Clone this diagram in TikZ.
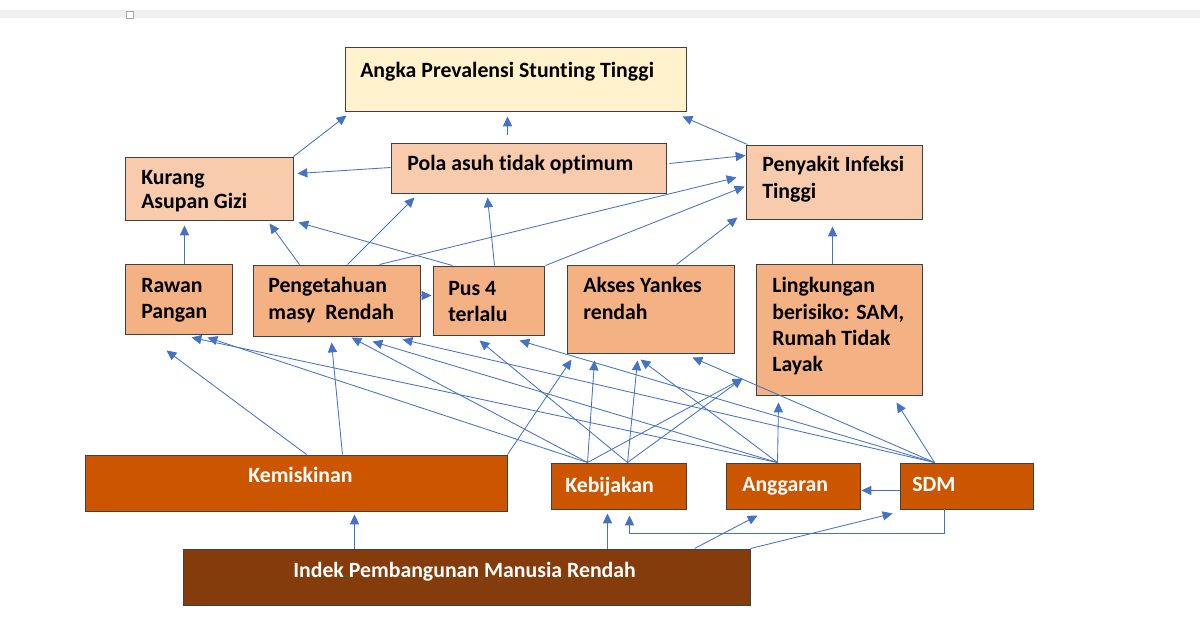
\documentclass[tikz,border=0pt]{standalone}
\usepackage{fontspec}
\setmainfont{Carlito}[Ligatures={NoCommon}]
\usepackage{tikz}
\usetikzlibrary{arrows.meta, positioning, calc, fit}

\definecolor{arrowblue}{HTML}{4472C4}
\definecolor{topfill}{HTML}{FFF2CC}
\definecolor{lightpeach}{HTML}{F8CBAD}
\definecolor{peach}{HTML}{F4B183}
\definecolor{rust}{HTML}{CC5500}
\definecolor{darkrust}{HTML}{843C0C}
\definecolor{boxline}{HTML}{404040}

\begin{document}
\begin{tikzpicture}[x=0.025cm,y=-0.025cm,>={Triangle[length=7pt,width=6.5pt]},
			cause box/.style={draw=boxline,line width=0.7pt,inner sep=0pt},
			box text/.style={anchor=north west,inner sep=0pt,align=left,font=\bfseries\fontsize{15.5}{18.8}\selectfont},
			arr/.style={->,draw=arrowblue,line width=0.6pt}]

			\useasboundingbox (0,0) rectangle (1200,630);
			\fill[white] (0,0) rectangle (1200,630);
			% ruler strip of the screenshot
			\fill[gray!12] (0,10) rectangle (1200,18);
			\draw[gray!70,line width=0.5pt,fill=white] (126,11) rectangle (133,18);

			% boxes
			\node[cause box,fill=topfill,fit={(345,47) (686,111)}] (angka) {};
			\node[cause box,fill=lightpeach,fit={(125,157) (293,220)}] (kurang) {};
			\node[cause box,fill=lightpeach,fit={(391,143) (666,193)}] (pola) {};
			\node[cause box,fill=lightpeach,fit={(746,145) (922,219)}] (penyakit) {};
			\node[cause box,fill=peach,fit={(125,264) (232,334)}] (rawan) {};
			\node[cause box,fill=peach,fit={(253,265) (420,336)}] (penget) {};
			\node[cause box,fill=peach,fit={(433,266) (544,335)}] (pus) {};
			\node[cause box,fill=peach,fit={(567,265) (734,353)}] (akses) {};
			\node[cause box,fill=peach,fit={(756,264) (922,395)}] (lingk) {};
			\node[cause box,fill=rust,fit={(85,455) (507,511)}] (kemis) {};
			\node[cause box,fill=rust,fit={(551,463) (686,509)}] (kebij) {};
			\node[cause box,fill=rust,fit={(726,463) (860,509)}] (anggar) {};
			\node[cause box,fill=rust,fit={(900,463) (1033,509)}] (sdm) {};
			\node[cause box,fill=darkrust,fit={(183,549) (750,605)}] (ipm) {};

			% texts
			\node[box text] (angkatxt) at (360,62) {Angka Prevalensi Stunting Tinggi};
			\node[box text] (kurangtxt) at (141,170) {Kurang\\[-1.4pt]Asupan Gizi};
			\node[box text] (polatxt) at (407,155) {Pola asuh tidak optimum};
			\node[box text] (penyakittxt) at (762,156) {Penyakit Infeksi\\Tinggi};
			\node[box text] (rawantxt) at (141,278) {Rawan\\Pangan};
			\node[box text] (pengettxt) at (268,277) {Pengetahuan\\masy\ \ Rendah};
			\node[box text] (pustxt) at (448,281) {Pus 4\\terlalu};
			\node[box text] (aksestxt) at (583,277) {Akses Yankes\\rendah};
			\node[box text] (lingktxt) at (772,277) {Lingkungan\\berisiko: SAM,\\Rumah Tidak\\Layak};
			\node[box text,text=white] (kemistxt) at (248,467) {Kemiskinan};
			\node[box text,text=white] (kebijtxt) at (565,477) {Kebijakan};
			\node[box text,text=white] (anggartxt) at (742,477) {Anggaran};
			\node[box text,text=white] (sdmtxt) at (912,477) {SDM};
			\node[box text,text=white] (ipmtxt) at (293,562) {Indek Pembangunan Manusia Rendah};

			% into the top box
			\draw[arr] (kurang.north east) -- ($(angka.south west)+(2,4)$);
			\draw[arr] ($(pola.north west)+(117,-8)$) -- ($(angka.south west)+(163,5)$);
			\draw[arr] ($(penyakit.north west)+(2,0)$) -- ($(angka.south east)+(-4,5)$);
			\draw[arr] ($(pola.north west)+(0,25)$) -- ($(kurang.north east)+(4,17)$);
			\draw[arr] ($(pola.north east)+(3,21)$) -- ($(penyakit.north west)+(0,11)$);

			% second row
			\draw[arr] ($(rawan.north west)+(60,0)$) -- ($(kurang.south west)+(60,5)$);
			\draw[arr] ($(penget.north west)+(47,0)$) -- ($(kurang.south west)+(145,3)$);
			\draw[arr] ($(pus.north west)+(20,0)$) -- ($(kurang.south east)+(5,2)$);
			\draw[arr] ($(penget.north west)+(95,0)$) -- ($(pola.south west)+(24,4)$);
			\draw[arr] ($(pus.north west)+(62,0)$) -- ($(pola.south west)+(97,4)$);
			\draw[arr] ($(penget.north west)+(127,0)$) -- ($(penyakit.north west)+(-9,33)$);
			\draw[arr] ($(pus.north east)+(1,0)$) -- ($(penyakit.north west)+(-1,42)$);
			\draw[arr] ($(akses.north west)+(110,0)$) -- ($(penyakit.south west)+(-8,-2)$);
			\draw[arr] ($(lingk.north west)+(77,0)$) -- ($(penyakit.south west)+(87,7)$);
			\draw[arr] ($(penget.north east)+(0,31)$) -- ($(pus.north west)+(-1,30)$);

			% from Kemiskinan
			\draw[arr] ($(kemis.north west)+(222,0)$) -- ($(rawan.south west)+(42,16)$);
			\draw[arr] ($(kemis.north west)+(258,0)$) -- ($(penget.south west)+(79,6)$);
			\draw[arr] (kemis.north east) -- ($(akses.south west)+(5,6)$);

			% from Kebijakan
			\draw[arr] ($(kebij.north west)+(37,0)$) -- ($(rawan.south west)+(83,3)$);
			\draw[arr] ($(kebij.north west)+(37,0)$) -- ($(penget.south west)+(99,1)$);
			\draw[arr] ($(kebij.north west)+(37,0)$) -- ($(akses.south west)+(28,7)$);
			\draw[arr] ($(kebij.north west)+(37,0)$) -- ($(lingk.south west)+(-13,-17)$);
			\draw[arr] ($(kebij.north west)+(77,0)$) -- ($(pus.south west)+(47,5)$);
			\draw[arr] ($(kebij.north west)+(77,0)$) -- ($(akses.south west)+(71,7)$);
			\draw[arr] ($(kebij.north west)+(77,0)$) -- ($(lingk.south west)+(-13,-17)$);

			% from Anggaran
			\draw[arr] ($(anggar.north west)+(52,0)$) -- ($(rawan.south west)+(67,3)$);
			\draw[arr] ($(anggar.north west)+(52,0)$) -- ($(penget.south west)+(120,5)$);
			\draw[arr] ($(anggar.north west)+(52,0)$) -- ($(akses.south west)+(74,6)$);
			\draw[arr] ($(anggar.north west)+(52,0)$) -- ($(lingk.south west)+(23,7)$);

			% from SDM
			\draw[arr] ($(sdm.north west)+(35,0)$) -- ($(penget.south west)+(150,3)$);
			\draw[arr] ($(sdm.north west)+(35,0)$) -- ($(pus.south west)+(87,5)$);
			\draw[arr] ($(sdm.north west)+(35,0)$) -- ($(akses.south west)+(126,4)$);
			\draw[arr] ($(sdm.north west)+(35,0)$) -- ($(lingk.south west)+(141,7)$);
			\draw[arr] ($(sdm.south west)+(0,-19)$) -- ($(anggar.south east)+(1,-19)$);
			\draw[arr] ($(sdm.south west)+(45,0)$) |- ($(kebij.south west)+(79,24)$) -- ($(kebij.south west)+(79,6)$);

			% from IPM
			\draw[arr] ($(ipm.north west)+(172,0)$) -- ($(kemis.south west)+(270,3)$);
			\draw[arr] ($(ipm.north west)+(425,0)$) -- ($(kebij.south west)+(57,4)$);
			\draw[arr] ($(ipm.north west)+(512,0)$) -- ($(anggar.south west)+(32,6)$);
			\draw[arr] (ipm.north east) -- ($(sdm.south west)+(-7,4)$);

		\end{tikzpicture}
\end{document}
